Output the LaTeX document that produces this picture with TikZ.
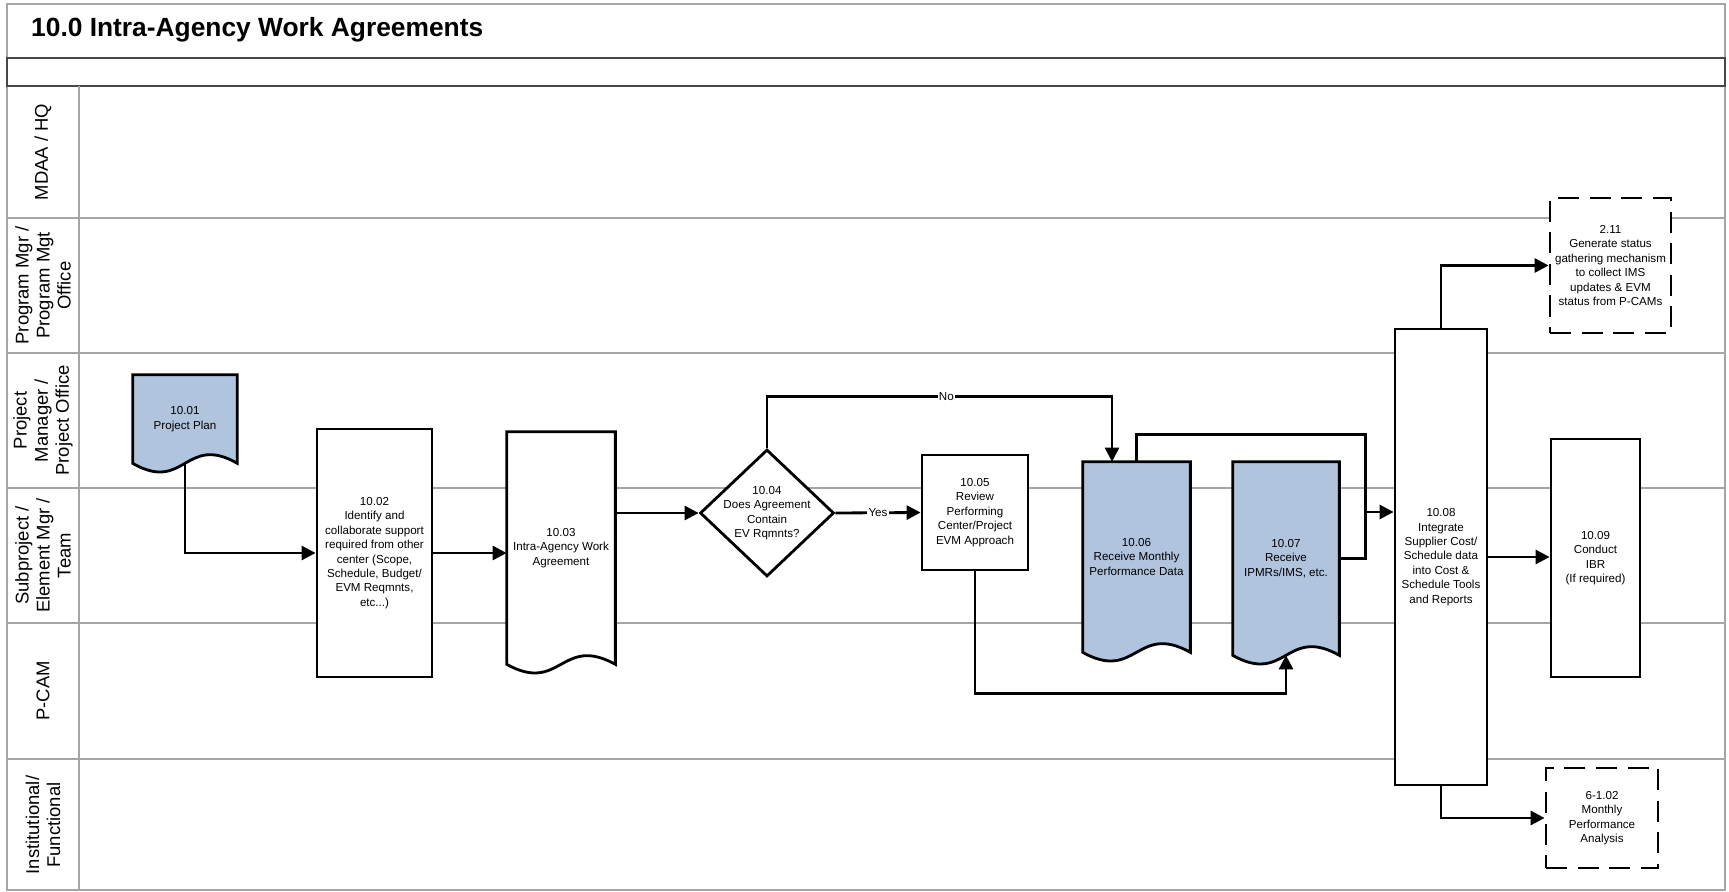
\documentclass[tikz,border=0pt]{standalone}
\usepackage{fontspec}
\setmainfont{Liberation Sans}
\usetikzlibrary{shapes.geometric, arrows.meta, calc}

\definecolor{docblue}{RGB}{176,196,222}
\definecolor{lanegray}{RGB}{165,165,165}
\definecolor{rowgray}{RGB}{70,70,70}

\pgfdeclarelayer{lanes}
\pgfdeclarelayer{docs}
\pgfsetlayers{lanes,docs,main}

% document outline drawn behind node #1, filled with #2
\newcommand{\docoutline}[2]{%
  \begin{pgfonlayer}{docs}
    \draw[line width=1.6pt, fill=#2] (#1.north west) -- (#1.north east) -- (#1.south east)
      .. controls ($(#1.south)+(0,-30)$) and ($(#1.south)+(0,30)$) .. (#1.south west) -- cycle;
  \end{pgfonlayer}}

\begin{document}
\begin{tikzpicture}[
  x=0.02cm, y=-0.02cm,
  box/.style={draw, line width=1.6pt, fill=white, align=center, inner sep=1pt,
    font=\fontsize{6.6}{8.2}\selectfont},
  docnode/.style={align=center, inner sep=1pt, font=\fontsize{6.6}{8.2}\selectfont},
  extbox/.style={box, dash pattern=on 12pt off 6pt},
  decision/.style={diamond, draw, line width=1.6pt, fill=white, inner sep=0pt},
  txt/.style={align=center, inner sep=0pt, font=\fontsize{6.6}{8.2}\selectfont},
  flow/.style={line width=1.6pt, -{Triangle[length=8pt, width=8pt]}},
  link/.style={line width=1.6pt},
  lbl/.style={fill=white, inner sep=0.6pt, font=\fontsize{6.6}{8.2}\selectfont},
  lanelbl/.style={rotate=90, align=center, font=\fontsize{10.5}{12}\selectfont},
]
\useasboundingbox (0,0) rectangle (1729,892);

% Frame and swim lanes
\begin{pgfonlayer}{lanes}
  \draw[lanegray, line width=1.1pt] (7,4) rectangle (1725,890);
  \draw[rowgray, line width=1.1pt] (7,58) rectangle (1725,86);
  \draw[lanegray, line width=1.1pt] (79,86) -- (79,890);
  \foreach \y in {218,353,488,623,759} {
    \draw[lanegray, line width=1.1pt] (7,\y) -- (1725,\y);
  }
\end{pgfonlayer}

\node[anchor=base west, font=\bfseries\fontsize{15}{18}\selectfont] (title) at (25,37)
  {10.0 Intra-Agency Work Agreements};

% Lane labels
\foreach \yc/\lbl [count=\i] in {152/{MDAA / HQ},
    285.5/{Program Mgr /\\Program Mgt\\Office},
    420.5/{Project\\Manager /\\Project Office},
    555.5/{Subproject /\\Element Mgr /\\Team},
    691/{P-CAM},
    825/{Institutional/\\Functional}} {
  \node[lanelbl] (lane\i) at (43,\yc) {\lbl};
}

% Steps
\node[docnode, minimum width=2.08cm, minimum height=1.76cm] (p01) at (185,419)
  {10.01\\Project Plan};
\docoutline{p01}{docblue}
\node[box, minimum width=2.3cm, minimum height=4.96cm] (p02) at (374.5,553)
  {10.02\\Identify and\\collaborate support\\required from other\\center (Scope,\\Schedule, Budget/\\EVM Reqmnts,\\etc...)};
\node[docnode, minimum width=2.16cm, minimum height=4.64cm] (p03) at (561,548)
  {10.03\\Intra-Agency Work\\Agreement};
\docoutline{p03}{white}
\node[decision, minimum width=2.68cm, minimum height=2.54cm] (p04) at (767,513) {};
\node[txt] (p04t) at (p04) {10.04\\Does Agreement\\Contain\\EV Rqmnts?};
\node[box, minimum width=2.12cm, minimum height=2.3cm] (p05) at (975,512.5)
  {10.05\\Review\\Performing\\Center/Project\\EVM Approach};
\node[docnode, minimum width=2.14cm, minimum height=3.8cm] (p06) at (1136.5,557)
  {10.06\\Receive Monthly\\Performance Data};
\docoutline{p06}{docblue}
\node[docnode, minimum width=2.12cm, minimum height=3.86cm] (p07) at (1286,558.5)
  {10.07\\Receive\\IPMRs/IMS, etc.};
\docoutline{p07}{docblue}
\node[box, minimum width=1.84cm, minimum height=9.12cm] (p08) at (1441,557)
  {10.08\\Integrate\\Supplier Cost/\\Schedule data\\into Cost \&\\Schedule Tools\\and Reports};
\node[box, minimum width=1.78cm, minimum height=4.76cm] (p09) at (1595.5,558)
  {10.09\\Conduct\\IBR\\(If required)};

% Steps in other processes
\node[extbox, minimum width=2.42cm, minimum height=2.7cm] (p211) at (1610.5,265.5)
  {2.11\\Generate status\\gathering mechanism\\to collect IMS\\updates \& EVM\\status from P-CAMs};
\node[extbox, minimum width=2.24cm, minimum height=2cm] (p6102) at (1602,818)
  {6-1.02\\Monthly\\Performance\\Analysis};

% Connectors
\coordinate (in08) at ($(p08.west)+(0,-45)$);
\coordinate (jn) at ($(in08)+(-28,0)$);
\draw[flow] (p01.south) |- (p02.west);
\draw[flow] (p02.east) -- (p02.east -| p03.west);
\draw[flow] (p04.west -| p03.east) -- (p04.west);
\draw[flow] (p04.east) -- node[lbl] {Yes} (p05.west);
\draw[flow] (p04.north) -- ++(0,-52) -| node[lbl, pos=0.26] {No} ($(p06.north)+(-24.5,0)$);
\draw[flow] (p05.south) -- ++(0,122) -| (p07.south);
\draw[link] (p07.east) -| (jn);
\draw[flow] (p06.north) -- ++(0,-27) -| (jn) -- (in08);
\draw[flow] (p08.north) |- (p211.west);
\draw[flow] (p08.east) -- (p08.east -| p09.west);
\draw[flow] (p08.south) |- (p6102.west);

\end{tikzpicture}
\end{document}
